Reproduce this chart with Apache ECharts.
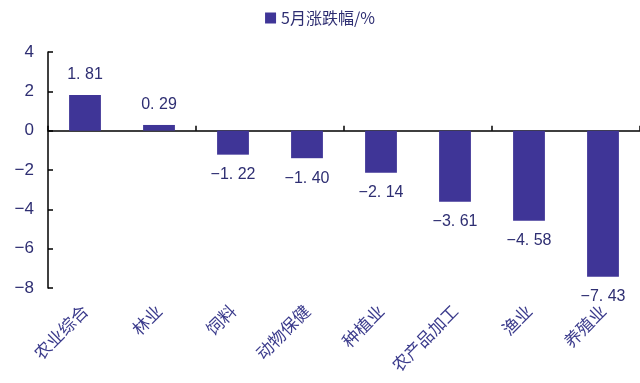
<!DOCTYPE html>
<html><head><meta charset="utf-8">
<script src="https://cdn.jsdelivr.net/npm/echarts@6/dist/echarts.min.js"></script>
<style>html,body{margin:0;padding:0;background:#fff}#c{width:640px;height:383px}</style>
</head><body><div id="c"></div>
<script>
const categories = ['农业综合','林业','饲料','动物保健','种植业','农产品加工','渔业','养殖业'];
const values = [1.81, 0.29, -1.22, -1.40, -2.14, -3.61, -4.58, -7.43];
const seriesName = '5月涨跌幅/%';
const yTicks = {min: -8, max: 4, interval: 2};

const navy = '#2e2e72';
const barColor = '#3f3597';
const fmt = v => (v < 0 ? '\u2212' : '') + Math.abs(v).toFixed(2).replace('.', '. ');
const chart = echarts.init(document.getElementById('c'));
chart.setOption({
  animation: false,
  legend: {
    top: 5, left: 'center', itemWidth: 11, itemHeight: 11, icon: 'rect', itemGap: 4,
    textStyle: {color: navy, fontSize: 16, fontFamily: 'Noto Sans CJK SC'},
    data: [seriesName]
  },
  grid: {left: 48, right: 0, top: 52, bottom: 95, containLabel: false, outerBoundsMode: 'none'},
  xAxis: [{
    type: 'category', data: categories, position: 'bottom',
    axisLine: {show: false, onZero: false},
    axisTick: {show: false},
    axisLabel: {rotate: 45, margin: 20, color: '#3b3b8c', fontSize: 17, fontFamily: 'Noto Sans CJK SC', interval: 0}
  }, {
    type: 'category', data: categories, position: 'bottom',
    axisLine: {show: true, onZero: true, lineStyle: {color: '#000', width: 1.5}},
    axisTick: {show: true, inside: true, length: 5, lineStyle: {color: '#000', width: 1.5}},
    axisLabel: {show: false}
  }],
  yAxis: {
    type: 'value', min: yTicks.min, max: yTicks.max, interval: yTicks.interval,
    axisLine: {show: true, lineStyle: {color: '#000', width: 1.5}},
    axisTick: {show: true, inside: true, length: 5, lineStyle: {color: '#000', width: 1.5}},
    splitLine: {show: false},
    axisLabel: {color: navy, fontSize: 17, fontFamily: 'Liberation Sans', margin: 14,
      formatter: v => (v < 0 ? '\u2212' : '') + Math.abs(v)}
  },
  series: [{
    name: seriesName, type: 'bar', data: values, barWidth: '43%', xAxisIndex: 0,
    itemStyle: {color: barColor},
    label: {show: true, position: 'outside', distance: 12, color: navy, fontSize: 16, fontFamily: 'Liberation Sans',
      formatter: p => fmt(p.value)}
  }]
});
</script></body></html>
